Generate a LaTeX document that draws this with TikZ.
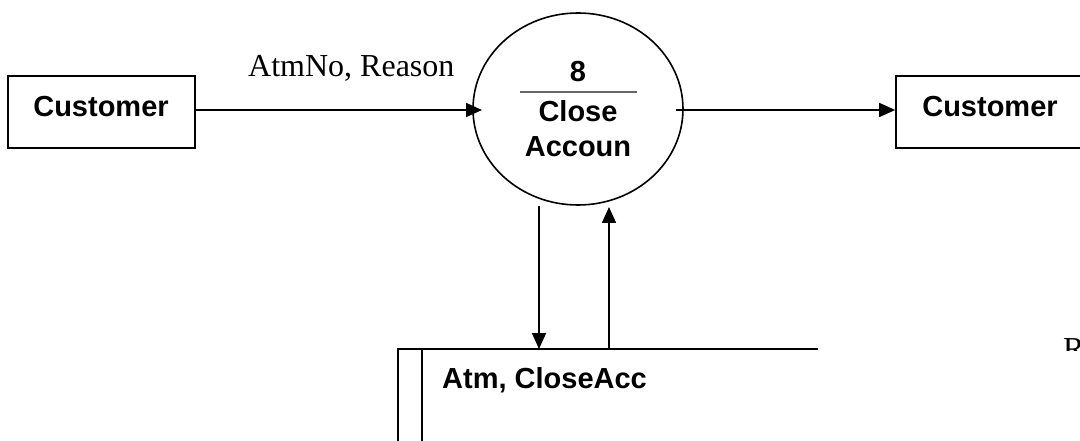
\documentclass[tikz,border=0pt]{standalone}
\usepackage{fontspec}
\setmainfont{Liberation Serif}
\newfontfamily\arialbold{Liberation Sans}
\usetikzlibrary{arrows.meta,shapes.geometric}
\tikzset{
  ln/.style={line width=1.6pt, black},
  arr/.style={ln, -{Triangle[length=16pt,width=14pt]}},
  extbox/.style={draw, line width=1.6pt, minimum width=187pt, minimum height=72pt, inner sep=0pt},
  boldtxt/.style={font=\arialbold\bfseries\fontsize{29}{33}\selectfont, inner sep=0pt},
  sertxt/.style={font=\fontsize{32}{36}\selectfont, inner sep=0pt},
  proc/.style={draw, ellipse, line width=1.6pt, minimum width=210pt, minimum height=192pt, inner sep=0pt}
}
\begin{document}
\begin{tikzpicture}[x=1pt,y=-1pt]
\useasboundingbox (0,0) rectangle (1080,441);
% external entities
\node[extbox] (c1) at (101.5,112) {};
\node[boldtxt, anchor=base] (c1t) at (101,117) {Customer};
\node[extbox] (c2) at (989.5,112) {};
\node[boldtxt, anchor=base] (c2t) at (990,117) {Customer};
% process
\node[proc] (p) at (578,109) {};
\node[boldtxt, anchor=base] (pn) at (578,82) {8};
\draw[line width=2pt, color=black!60] (520,92) coordinate (d1) -- (637,92) coordinate (d2);
\node[boldtxt, anchor=base] (pt1) at (578,122) {Close};
\node[boldtxt, anchor=base] (pt2) at (578,157) {Accoun};
% data store
\coordinate (s1) at (398,349);
\coordinate (s2) at (818,349);
\coordinate (s3) at (398,445);
\coordinate (s4) at (422,349);
\coordinate (s5) at (422,445);
\draw[ln] (s3) -- (s1) -- (s2);
\draw[line width=1.4pt] (s4) -- (s5);
\node[boldtxt, anchor=base west] (st) at (442,388) {Atm, CloseAcc};
% flows
\coordinate (pin) at (482,110);
\coordinate (pout) at (676,110);
\coordinate (pdown) at (539,206);
\coordinate (sdown) at (539,349);
\coordinate (sup) at (609,349);
\coordinate (pup) at (609,207);
\draw[arr] (c1.east |- pin) -- (pin);
\node[sertxt, anchor=base west] (lbl) at (248,77) {AtmNo, Reason};
\draw[arr] (pout) -- (c2.west |- pout);
\draw[arr] (pdown) -- (sdown);
\draw[arr] (sup) -- (pup);
% clipped letter at right edge (only its top part is visible)
\begin{scope}
\clip (1055,330) rectangle (1080,350.5);
\node[sertxt, anchor=base west] (rr) at (1063,359) {R};
\end{scope}
\end{tikzpicture}
\end{document}
